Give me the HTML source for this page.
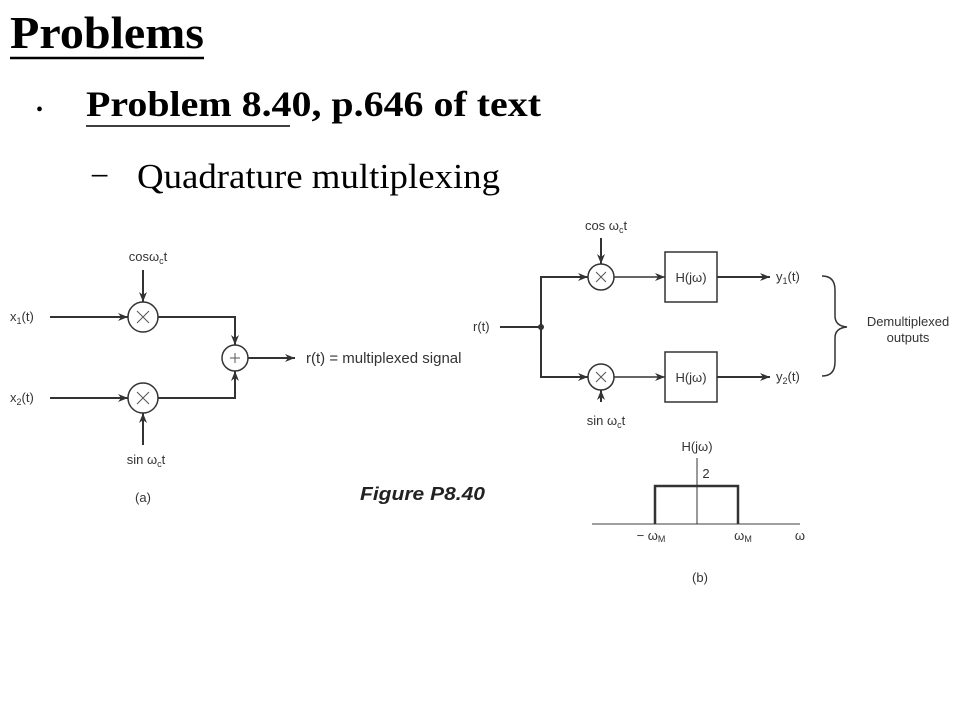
<!DOCTYPE html>
<html><head><meta charset="utf-8"><style>
html,body{margin:0;padding:0;background:#fff;width:960px;height:720px;overflow:hidden}
svg{display:block}
.t{font-family:"Liberation Serif",serif;fill:#000}
.s{font-family:"Liberation Sans",sans-serif;fill:#333;font-size:13px}
</style></head><body>
<svg width="960" height="720" viewBox="0 0 960 720" xmlns="http://www.w3.org/2000/svg">
<defs><marker id="a" viewBox="0 0 10 10" refX="10" refY="5" markerWidth="18" markerHeight="10" markerUnits="userSpaceOnUse" orient="auto"><path d="M0,1 L10,5 L0,9 L3,5 z" fill="#333"/></marker></defs>
<text class="t" x="10" y="48" font-size="46" font-weight="bold" textLength="194" lengthAdjust="spacingAndGlyphs">Problems</text>
<line x1="10" y1="58" x2="204" y2="58" stroke="#000" stroke-width="2.5"/>
<text class="t" x="36" y="116" font-size="20">•</text>
<text class="t" x="86" y="116" font-size="36" font-weight="bold" textLength="455" lengthAdjust="spacingAndGlyphs">Problem 8.40, p.646 of text</text>
<line x1="86" y1="126" x2="290" y2="126" stroke="#000" stroke-width="1.5"/>
<text class="t" x="90" y="187" font-size="34">−</text>
<text class="t" x="137" y="188" font-size="35" textLength="363" lengthAdjust="spacingAndGlyphs">Quadrature multiplexing</text>

<g stroke="#333" stroke-width="2" fill="none">
<line x1="50" y1="317" x2="128" y2="317" marker-end="url(#a)"/>
<line x1="50" y1="398" x2="128" y2="398" marker-end="url(#a)"/>
<circle cx="143" cy="317" r="15" stroke-width="1.5"/>
<circle cx="143" cy="398" r="15" stroke-width="1.5"/>
<line x1="143" y1="270" x2="143" y2="302" marker-end="url(#a)"/>
<line x1="143" y1="445" x2="143" y2="413" marker-end="url(#a)"/>
<path d="M158,317 H235 V345" marker-end="url(#a)"/>
<path d="M158,398 H235 V371" marker-end="url(#a)"/>
<circle cx="235" cy="358" r="13" stroke-width="1.5"/>
<line x1="248" y1="358" x2="295" y2="358" marker-end="url(#a)"/>
<line x1="500" y1="327" x2="541" y2="327"/>
<path d="M586,277 H541 V377 H586"/>
<line x1="570" y1="277" x2="588" y2="277" marker-end="url(#a)"/>
<line x1="570" y1="377" x2="588" y2="377" marker-end="url(#a)"/>
<circle cx="601" cy="277" r="13" stroke-width="1.5"/>
<circle cx="601" cy="377" r="13" stroke-width="1.5"/>
<line x1="601" y1="238" x2="601" y2="264" marker-end="url(#a)"/>
<line x1="601" y1="402" x2="601" y2="390" marker-end="url(#a)"/>
<line x1="614" y1="277" x2="665" y2="277" stroke-width="1.5" marker-end="url(#a)"/>
<line x1="614" y1="377" x2="665" y2="377" stroke-width="1.5" marker-end="url(#a)"/>
<rect x="665" y="252" width="52" height="50" stroke-width="1.5"/>
<rect x="665" y="352" width="52" height="50" stroke-width="1.5"/>
<line x1="717" y1="277" x2="770" y2="277" marker-end="url(#a)"/>
<line x1="717" y1="377" x2="770" y2="377" marker-end="url(#a)"/>
<path d="M822,276 Q835,276 835,290 V316 Q835,326 847,327 Q835,328 835,338 V362 Q835,376 822,376" stroke-width="1.5"/>
<line x1="592" y1="524" x2="800" y2="524" stroke="#666" stroke-width="1.2"/>
<line x1="697" y1="458" x2="697" y2="524" stroke-width="1"/>
<path d="M655,524 V486 H738 V524" stroke-width="2.5"/>
</g>
<circle cx="541" cy="327" r="3" fill="#333"/>
<g class="s" text-anchor="middle">
<path d="M137,311 l12,12 M149,311 l-12,12 M137,392 l12,12 M149,392 l-12,12 M596,272 l10,10 M606,272 l-10,10 M596,372 l10,10 M606,372 l-10,10 M230,358 h10 M235,353 v10" stroke="#555" stroke-width="1" fill="none"/>
<text x="148" y="261">cosω<tspan font-size="9" dy="3">c</tspan><tspan dy="-3">t</tspan></text>
<text x="146" y="464">sin ω<tspan font-size="9" dy="3">c</tspan><tspan dy="-3">t</tspan></text>
<text x="143" y="502">(a)</text>
<text x="606" y="230">cos ω<tspan font-size="9" dy="3">c</tspan><tspan dy="-3">t</tspan></text>
<text x="606" y="425">sin ω<tspan font-size="9" dy="3">c</tspan><tspan dy="-3">t</tspan></text>
<text x="691" y="282">H(jω)</text>
<text x="691" y="382">H(jω)</text>
<text x="908" y="326">Demultiplexed</text>
<text x="908" y="342">outputs</text>
<text x="697" y="451">H(jω)</text>
<text x="706" y="478">2</text>
<text x="651" y="540">− ω<tspan font-size="9" dy="2">M</tspan></text>
<text x="743" y="540">ω<tspan font-size="9" dy="2">M</tspan></text>
<text x="800" y="540">ω</text>
<text x="700" y="582">(b)</text>
</g>
<g class="s">
<text x="10" y="321">x<tspan font-size="9" dy="3">1</tspan><tspan dy="-3">(t)</tspan></text>
<text x="10" y="402">x<tspan font-size="9" dy="3">2</tspan><tspan dy="-3">(t)</tspan></text>
<text x="306" y="363" font-size="15">r(t) = multiplexed signal</text>
<text x="473" y="331">r(t)</text>
<text x="776" y="281">y<tspan font-size="9" dy="3">1</tspan><tspan dy="-3">(t)</tspan></text>
<text x="776" y="381">y<tspan font-size="9" dy="3">2</tspan><tspan dy="-3">(t)</tspan></text>
<text x="360" y="500" font-size="18" font-weight="bold" font-style="italic" fill="#222" textLength="125" lengthAdjust="spacingAndGlyphs">Figure P8.40</text>
</g>
</svg>
</body></html>
